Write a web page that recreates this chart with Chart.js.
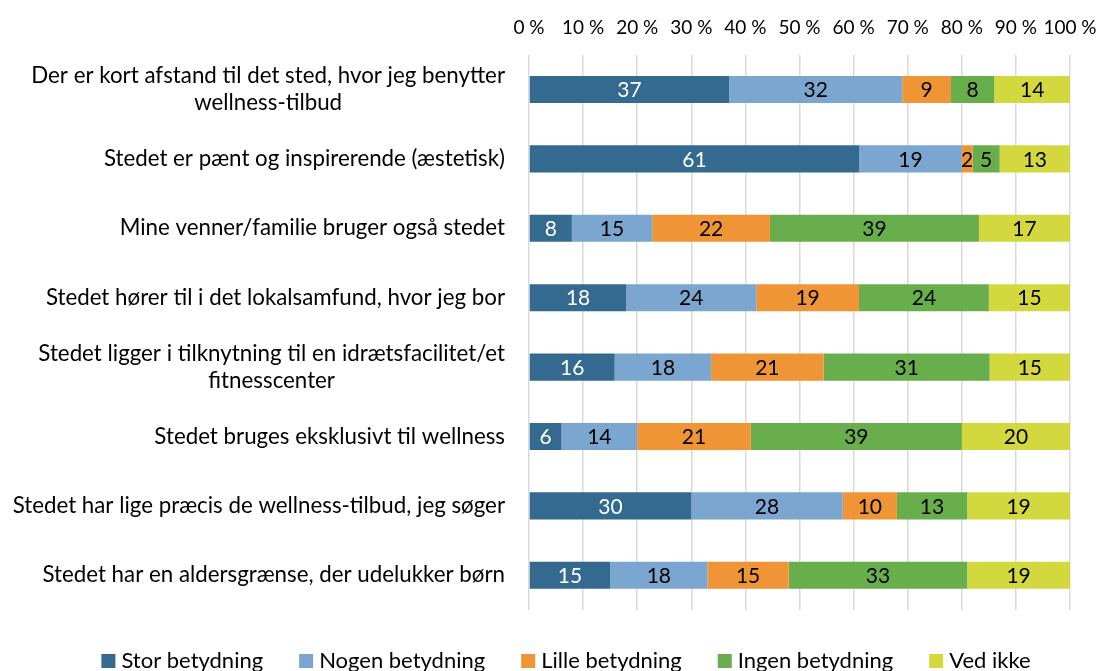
<!DOCTYPE html>
<html>
<head>
<meta charset="utf-8">
<script src="https://cdn.jsdelivr.net/npm/chart.js@4"></script>
<style>
  body { margin: 0; background: #fff; }
  #wrap { width: 1102px; height: 671px; }
</style>
</head>
<body>
<div id="wrap"><canvas id="c"></canvas></div>
<script>
var categories = [
  ["Der er kort afstand til det sted, hvor jeg benytter", "wellness-tilbud"],
  "Stedet er pænt og inspirerende (æstetisk)",
  "Mine venner/familie bruger også stedet",
  "Stedet hører til i det lokalsamfund, hvor jeg bor",
  ["Stedet ligger i tilknytning til en idrætsfacilitet/et", "fitnesscenter"],
  "Stedet bruges eksklusivt til wellness",
  "Stedet har lige præcis de wellness-tilbud, jeg søger",
  "Stedet har en aldersgrænse, der udelukker børn"
];
var seriesNames = ["Stor betydning", "Nogen betydning", "Lille betydning", "Ingen betydning", "Ved ikke"];
var stor   = [37, 61, 8, 18, 16, 6, 30, 15];
var nogen  = [32, 19, 15, 24, 18, 14, 28, 18];
var lille  = [9, 2, 22, 19, 21, 21, 10, 15];
var ingen  = [8, 5, 39, 24, 31, 39, 13, 33];
var vedIkke = [14, 13, 17, 15, 15, 20, 19, 19];
var tickValues = [0, 10, 20, 30, 40, 50, 60, 70, 80, 90, 100];

var colors = ["#346990", "#7aa6cf", "#ef9535", "#69ae4c", "#d3d83f"];
var labelColors = ["#ffffff", "#000000", "#000000", "#000000", "#000000"];
var FONT = "Lato";

var allSeries = [stor, nogen, lille, ingen, vedIkke];
var sums = categories.map(function (c, i) {
  return allSeries.reduce(function (a, s) { return a + s[i]; }, 0);
});

var datasets = allSeries.map(function (s, k) {
  return {
    label: seriesNames[k],
    data: s.map(function (v, i) { return v / sums[i] * 100; }),
    raw: s,
    backgroundColor: colors[k],
    borderWidth: 0,
    barPercentage: 0.78,
    categoryPercentage: 0.5
  };
});

// values inside the bars
var barLabels = {
  id: "barLabels",
  afterDatasetsDraw: function (chart) {
    var ctx = chart.ctx;
    ctx.save();
    ctx.font = "21px " + FONT;
    ctx.textAlign = "center";
    ctx.textBaseline = "middle";
    chart.data.datasets.forEach(function (ds, k) {
      chart.getDatasetMeta(k).data.forEach(function (bar, i) {
        var p = bar.getProps(["x", "y", "base"], true);
        ctx.fillStyle = labelColors[k];
        ctx.fillText(ds.raw[i], (p.x + p.base) / 2, p.y + 1);
      });
    });
    ctx.restore();
  }
};

// category labels, centred per block and right aligned to the axis
var catLabels = {
  id: "catLabels",
  afterDraw: function (chart) {
    var ctx = chart.ctx;
    var y = chart.scales.y;
    var right = chart.chartArea.left - 24;
    ctx.save();
    ctx.font = "22.3px " + FONT;
    ctx.fillStyle = "#000";
    ctx.textBaseline = "middle";
    ctx.textAlign = "center";
    categories.forEach(function (c, i) {
      var lines = Array.isArray(c) ? c : [c];
      var w = Math.max.apply(null, lines.map(function (l) { return ctx.measureText(l).width; }));
      var cx = right - w / 2;
      var cy = y.getPixelForValue(i);
      var lh = 27;
      lines.forEach(function (l, j) {
        ctx.fillText(l, cx, cy + (j - (lines.length - 1) / 2) * lh);
      });
    });
    ctx.restore();
  }
};

// legend row under the plot (tighter spacing than the built-in one)
var bottomLegend = {
  id: "bottomLegend",
  afterDraw: function (chart) {
    var ctx = chart.ctx;
    var box = 14, gapText = 6, gapItem = 36;
    ctx.save();
    ctx.font = "22px " + FONT;
    ctx.textBaseline = "middle";
    ctx.textAlign = "left";
    var items = chart.data.datasets.map(function (ds) {
      return { text: ds.label, color: ds.backgroundColor, w: ctx.measureText(ds.label).width };
    });
    var total = items.reduce(function (a, it) { return a + box + gapText + it.w; }, 0) + gapItem * (items.length - 1);
    var x = (chart.width + 30) / 2 - total / 2;
    var cy = chart.height - 10;
    items.forEach(function (it) {
      ctx.fillStyle = it.color;
      ctx.fillRect(x, cy - box / 2, box, box);
      ctx.fillStyle = "#000";
      ctx.fillText(it.text, x + box + gapText, cy);
      x += box + gapText + it.w + gapItem;
    });
    ctx.restore();
  }
};

new Chart(document.getElementById("c"), {
  type: "bar",
  data: { labels: categories, datasets: datasets },
  options: {
    indexAxis: "y",
    responsive: true,
    maintainAspectRatio: false,
    animation: false,
    layout: { padding: { top: 0, right: 32, bottom: 61, left: 0 } },
    plugins: {
      legend: { display: false },
      tooltip: { enabled: false }
    },
    scales: {
      x: {
        position: "top",
        stacked: true,
        min: 0,
        max: 100,
        afterBuildTicks: function (s) {
          s.ticks = tickValues.map(function (v) { return { value: v }; });
        },
        afterFit: function (s) { s.paddingLeft = 0; s.paddingRight = 0; },
        ticks: {
          padding: 16,
          color: "#000",
          font: { family: FONT, size: 19 },
          callback: function (v) { return v + " %"; },
          maxRotation: 0,
          autoSkip: false
        },
        grid: { color: "#d9d9d9", lineWidth: 1.5, drawTicks: false },
        border: { display: false }
      },
      y: {
        stacked: true,
        afterFit: function (s) { s.width = 529; },
        ticks: { display: false },
        grid: { display: false },
        border: { display: false }
      }
    }
  },
  plugins: [barLabels, catLabels, bottomLegend]
});
</script>
</body>
</html>
